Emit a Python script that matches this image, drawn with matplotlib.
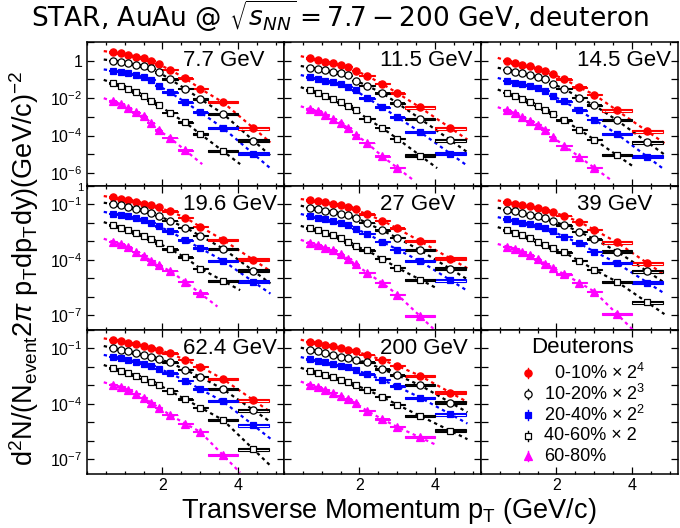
import numpy as np
import matplotlib
matplotlib.use("Agg")
import matplotlib.pyplot as plt
from matplotlib.patches import Rectangle
from matplotlib.ticker import FixedLocator, FuncFormatter, NullFormatter, MultipleLocator

plt.rcParams['font.family'] = ['Liberation Sans', 'DejaVu Sans']
plt.rcParams['mathtext.fontset'] = 'custom'
plt.rcParams['mathtext.rm'] = 'Liberation Sans'
plt.rcParams['mathtext.it'] = 'Liberation Sans:italic'
plt.rcParams['mathtext.bf'] = 'Liberation Sans:bold'

# pT bin centres, half widths (GeV/c) and relative systematic errors
pt = [0.7, 0.9, 1.1, 1.3, 1.5, 1.7, 1.9, 2.2, 2.6, 3.0, 3.6, 4.4]
pt_half = [0.1, 0.1, 0.1, 0.1, 0.1, 0.1, 0.1, 0.2, 0.2, 0.2, 0.4, 0.4]
sys_rel = [0.05, 0.05, 0.05, 0.05, 0.05, 0.05, 0.05, 0.05, 0.06, 0.07, 0.14, 0.2]

energies = ["7.7", "11.5", "14.5", "19.6", "27", "39", "62.4", "200"]

# log10 of scaled d yields; order 0-10%, 10-20%, 20-40%, 40-60%, 60-80%
lg_7p7 = [
    [0.45, 0.40, 0.31, 0.22, 0.13, 0.01, -0.19, -0.49, -0.94, -1.50, -2.23, -3.60],
    [0.00, -0.05, -0.14, -0.21, -0.29, -0.40, -0.62, -0.99, -1.50, -2.05, -2.84, -4.27],
    [-0.53, -0.58, -0.67, -0.76, -0.89, -1.02, -1.34, -1.70, -2.21, -2.76, -3.60, -4.98],
    [-1.20, -1.34, -1.52, -1.70, -1.88, -2.13, -2.36, -2.80, -3.30, -3.92, -4.84],
    [-2.18, -2.32, -2.53, -2.76, -2.98, -3.33, -3.72, -4.13, -4.79],
]
lg_11p5 = [
    [0.13, 0.04, -0.05, -0.14, -0.23, -0.32, -0.53, -0.81, -1.24, -1.73, -2.50, -3.60],
    [-0.37, -0.44, -0.51, -0.58, -0.67, -0.79, -1.06, -1.34, -1.73, -2.27, -3.10, -4.25],
    [-0.88, -0.97, -1.06, -1.15, -1.26, -1.38, -1.59, -2.00, -2.48, -3.03, -3.81, -4.97],
    [-1.59, -1.73, -1.91, -2.05, -2.23, -2.41, -2.62, -3.10, -3.60, -4.17, -5.07],
    [-2.59, -2.71, -2.89, -3.12, -3.33, -3.60, -3.95, -4.40, -5.11, -5.73],
]
lg_14p5 = [
    [-0.01, -0.14, -0.23, -0.31, -0.44, -0.55, -0.72, -0.99, -1.42, -1.82, -2.66, -3.78],
    [-0.49, -0.58, -0.67, -0.76, -0.85, -0.99, -1.24, -1.50, -1.97, -2.39, -3.19, -4.36],
    [-1.06, -1.17, -1.26, -1.34, -1.47, -1.61, -1.88, -2.18, -2.66, -3.16, -3.92, -5.14],
    [-1.73, -1.88, -2.04, -2.22, -2.41, -2.62, -2.84, -3.19, -3.69, -4.22, -5.06],
    [-2.66, -2.80, -3.01, -3.25, -3.42, -3.69, -4.08, -4.54, -5.14, -5.73],
]
lg_19p6 = [
    [-0.62, -0.68, -0.75, -0.84, -0.95, -1.04, -1.16, -1.38, -1.71, -2.21, -2.92, -4.00],
    [-0.98, -1.04, -1.13, -1.22, -1.31, -1.44, -1.62, -1.89, -2.25, -2.70, -3.39, -4.60],
    [-1.49, -1.56, -1.65, -1.74, -1.85, -1.98, -2.19, -2.46, -2.93, -3.37, -4.05, -5.19],
    [-2.12, -2.25, -2.39, -2.56, -2.70, -2.88, -3.10, -3.42, -3.87, -4.47, -5.14],
    [-3.02, -3.15, -3.33, -3.57, -3.78, -4.05, -4.29, -4.60, -5.19, -5.82],
]
lg_27 = [
    [-0.77, -0.82, -0.88, -0.95, -1.04, -1.13, -1.27, -1.54, -1.87, -2.30, -2.99, -3.93],
    [-1.18, -1.27, -1.33, -1.40, -1.49, -1.58, -1.72, -2.00, -2.41, -2.81, -3.48, -4.49],
    [-1.63, -1.72, -1.81, -1.91, -2.00, -2.12, -2.32, -2.59, -3.02, -3.44, -4.07, -5.10],
    [-2.30, -2.41, -2.54, -2.68, -2.84, -3.04, -3.26, -3.49, -3.95, -4.43, -5.07],
    [-3.08, -3.21, -3.35, -3.49, -3.71, -3.95, -4.25, -4.70, -5.25, -5.88, -7.05],
]
lg_39 = [
    [-0.89, -0.98, -1.04, -1.11, -1.20, -1.29, -1.40, -1.62, -1.94, -2.37, -3.06, -4.18],
    [-1.29, -1.38, -1.47, -1.56, -1.65, -1.76, -1.89, -2.12, -2.48, -2.88, -3.55, -4.63],
    [-1.80, -1.89, -1.98, -2.07, -2.19, -2.30, -2.46, -2.74, -3.11, -3.55, -4.18, -5.23],
    [-2.39, -2.52, -2.66, -2.83, -3.01, -3.21, -3.37, -3.60, -4.05, -4.54, -5.19, -6.31],
    [-3.28, -3.39, -3.55, -3.75, -3.97, -4.20, -4.42, -4.78, -5.23, -5.72, -6.94],
]
lg_62p4 = [
    [-0.53, -0.59, -0.68, -0.77, -0.86, -0.95, -1.07, -1.27, -1.62, -1.99, -2.66, -3.80],
    [-0.98, -1.07, -1.16, -1.26, -1.35, -1.45, -1.58, -1.76, -2.16, -2.54, -3.21, -4.34],
    [-1.45, -1.53, -1.62, -1.71, -1.82, -1.94, -2.09, -2.34, -2.75, -3.21, -3.87, -5.16],
    [-2.07, -2.21, -2.34, -2.48, -2.63, -2.79, -2.97, -3.30, -3.75, -4.20, -4.88, -6.46],
    [-2.97, -3.08, -3.24, -3.44, -3.66, -3.93, -4.20, -4.60, -5.07, -5.52, -6.78],
]
lg_200 = [
    [-0.64, -0.73, -0.80, -0.89, -0.98, -1.07, -1.16, -1.35, -1.62, -1.94, -2.48, -3.39],
    [-1.07, -1.16, -1.26, -1.35, -1.44, -1.53, -1.62, -1.76, -2.12, -2.45, -2.99, -3.93],
    [-1.58, -1.67, -1.76, -1.85, -1.94, -2.03, -2.16, -2.39, -2.70, -3.06, -3.66, -4.56],
    [-2.21, -2.34, -2.45, -2.57, -2.70, -2.84, -2.99, -3.24, -3.62, -4.05, -4.65, -5.46],
    [-2.97, -3.11, -3.24, -3.39, -3.57, -3.75, -3.96, -4.38, -4.83, -5.25, -5.82],
]
all_lg = [lg_7p7, lg_11p5, lg_14p5, lg_19p6, lg_27, lg_39, lg_62p4, lg_200]

cent_labels = ["0-10% \u00d7 2$^{4}$", "10-20% \u00d7 2$^{3}$", "20-40% \u00d7 2$^{2}$",
               "40-60% \u00d7 2", "60-80%"]
styles = [
    dict(color='red', marker='o', mfc='red', ms=5.2),
    dict(color='black', marker='o', mfc='white', ms=5.2),
    dict(color='blue', marker='s', mfc='blue', ms=4.8),
    dict(color='black', marker='s', mfc='white', ms=4.8),
    dict(color='magenta', marker='^', mfc='magenta', ms=5.8),
]

W, H = 680.0, 528.0
x0, pw = 86.7, 197.0
y0, ph = 42.0, 144.0

fig = plt.figure(figsize=(6.8, 5.28), dpi=100)


def make_axes(row, col):
    ax = fig.add_axes([(x0 + col * pw) / W, 1 - (y0 + (row + 1) * ph) / H, pw / W, ph / H])
    ax.set_yscale('log')
    ax.set_xlim(0, 5.2)
    if row == 0:
        ax.set_ylim(10 ** -6.7, 10 ** 1.0)
        decs = list(range(-6, 2))
        labelled = {0: "1", -2: "$10^{-2}$", -4: "$10^{-4}$", -6: "$10^{-6}$"}
    else:
        ax.set_ylim(10 ** -7.8, 1.0)
        decs = list(range(-7, 1))
        labelled = {-1: "$10^{-1}$", -4: "$10^{-4}$", -7: "$10^{-7}$"}
    ax.yaxis.set_major_locator(FixedLocator([10.0 ** d for d in decs]))
    ax.yaxis.set_minor_locator(FixedLocator([]))
    ax.yaxis.set_minor_formatter(NullFormatter())
    if col == 0:
        ax.yaxis.set_major_formatter(FuncFormatter(
            lambda v, p, lab=labelled: lab.get(int(round(np.log10(v))), "")))
        if row == 1:
            # small "1" of the middle row, squeezed in at the frame edge
            ax.text(-0.018, 0.985, "1", transform=ax.transAxes, fontsize=8,
                    ha='right', va='center')
    else:
        ax.yaxis.set_major_formatter(NullFormatter())
    ax.xaxis.set_major_locator(FixedLocator([2, 4]))
    ax.xaxis.set_minor_locator(MultipleLocator(0.5))
    if row == 2:
        ax.xaxis.set_major_formatter(FuncFormatter(lambda v, p: "%d" % v))
    else:
        ax.xaxis.set_major_formatter(NullFormatter())
    ax.tick_params(which='both', direction='in', top=True, right=True,
                   labelsize=11.5, width=0.9, pad=3)
    ax.tick_params(axis='y', which='major', length=5)
    ax.tick_params(axis='x', which='major', length=5)
    ax.tick_params(axis='x', which='minor', length=2.5)
    for sp in ax.spines.values():
        sp.set_linewidth(1.1)
    return ax


for i, (energy, series) in enumerate(zip(energies, all_lg)):
    row, col = divmod(i, 3)
    ax = make_axes(row, col)
    for lg, st in zip(series, styles):
        n = len(lg)
        x = np.array(pt[:n])
        y = 10.0 ** np.array(lg)
        c = st['color']
        # dashed fit curve, carried a little past the measured range
        s0 = (lg[1] - lg[0]) / (pt[1] - pt[0])
        s1 = (lg[-1] - lg[-2]) / (pt[n - 1] - pt[n - 2])
        fx = np.concatenate([[0.45], x, [x[-1] + 0.45]])
        fy = np.concatenate([[lg[0] + s0 * (0.45 - pt[0])], lg, [lg[-1] + s1 * 0.45]])
        ax.plot(fx, 10.0 ** fy, ls=(0, (1.5, 1.6)), lw=1.6, color=c, zorder=2)
        # systematic boxes
        for xi, yi, hw, s in zip(x, y, pt_half, sys_rel):
            ax.add_patch(Rectangle((xi - hw, yi / (1 + s)), 2 * hw, yi * (1 + s) - yi / (1 + s),
                                   fill=False, edgecolor=c, lw=0.8, zorder=3))
        ax.errorbar(x, y, xerr=pt_half[:n], fmt='none', ecolor=c, elinewidth=1.4,
                    capsize=0, zorder=3)
        ax.plot(x, y, ls='none', marker=st['marker'], ms=st['ms'], mfc=st['mfc'],
                mec=c, mew=0.9, zorder=4)
    ax.text(0.487, 0.833, energy + " GeV", transform=ax.transAxes, fontsize=16,
            ha='left', va='baseline')

# legend panel
ax = make_axes(2, 2)
ax.text(0.517, 0.84, "Deuterons", transform=ax.transAxes, fontsize=16,
        ha='center', va='baseline')
leg_y = [0.699, 0.555, 0.410, 0.266, 0.122]
for k, (lab, st) in enumerate(zip(cent_labels, styles)):
    yy = leg_y[k]
    ax.plot([0.242, 0.242], [yy - 0.035, yy + 0.035], transform=ax.transAxes,
            color=st['color'], lw=1.0)
    ax.plot([0.242], [yy], transform=ax.transAxes, ls='none', marker=st['marker'],
            ms=st['ms'], mfc=st['mfc'], mec=st['color'], mew=0.9)
    tx = 0.37 if k == 0 else 0.32
    ax.text(tx, yy, lab, transform=ax.transAxes, fontsize=13, ha='left', va='center')

fig.text(0.5, 1 - 27 / H, r"STAR, AuAu @ $\sqrt{s_{NN}} = 7.7 - 200$ GeV, deuteron",
         ha='center', va='baseline', fontsize=19, family='DejaVu Sans',
         math_fontfamily='dejavusans')
fig.text(388.7 / W, 1 - 517.5 / H, r"Transverse Momentum p$_{\rm T}$ (GeV/c)",
         ha='center', va='baseline', fontsize=19.5)
fig.text(24 / W, 1 - 268 / H,
         r"d$^{2}$N/(N$_{\rm event}$2$\pi$ p$_{\rm T}$dp$_{\rm T}$dy)(GeV/c)$^{-2}$",
         ha='center', va='center', rotation=90, fontsize=19.5)

fig.savefig("out.png", dpi=100)
